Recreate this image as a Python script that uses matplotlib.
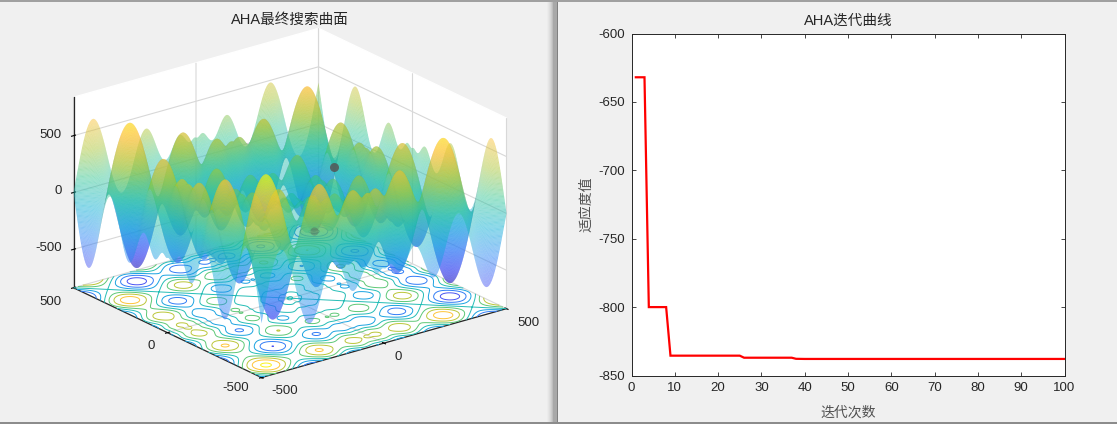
import numpy as np
import matplotlib
matplotlib.use('Agg')
import matplotlib.pyplot as plt
from matplotlib.colors import LinearSegmentedColormap
from matplotlib.patches import Rectangle
from mpl_toolkits.mplot3d import proj3d

W, H = 1119, 424
FONT = ['Liberation Sans', 'Noto Sans CJK SC', 'DejaVu Sans']
TEXT = '#262626'
plt.rcParams['font.family'] = FONT
plt.rcParams['font.size'] = 9.5
plt.rcParams['axes.unicode_minus'] = False
plt.rcParams['grid.color'] = '#d8d8d8'
plt.rcParams['grid.linewidth'] = 0.8
plt.rcParams['text.color'] = TEXT
plt.rcParams['axes.labelcolor'] = TEXT

# ---- data ----
curve_iter = [1, 3, 4, 8, 9, 25, 26, 37, 38, 40, 100]
curve_val = [-632, -632, -800, -800, -835.5, -835.5, -837, -837, -837.8, -837.9, -837.9]
best_floor = (421, 421, -838)
best_ball = (421, 314, -184)
surface_ticks = [-500, 0, 500]
surface_ticklabels = ['-500', '0', '500']
curve_xticks = list(range(0, 101, 10))
curve_yticks = [-600, -650, -700, -750, -800, -850]
contour_levels = [-800, -600, -400, -200, 0, 200, 400, 600, 800]
z_limits = (-838, 838)

# The surface is the Schwefel test function identified from the picture; a dense
# grid cannot be read by eye, so this one grid is computed rather than estimated.
grid = np.arange(-500, 500.1, 2.5)
X, Y = np.meshgrid(grid, grid)
Z = -X * np.sin(np.sqrt(np.abs(X))) - Y * np.sin(np.sqrt(np.abs(Y)))

parula = LinearSegmentedColormap.from_list('parula', [
    (0.2422, 0.1504, 0.6603), (0.2810, 0.3228, 0.9579), (0.1786, 0.5289, 0.9682),
    (0.0689, 0.6948, 0.8394), (0.2161, 0.7843, 0.5923), (0.6720, 0.7793, 0.2227),
    (0.9970, 0.7659, 0.2199), (0.9769, 0.9839, 0.0805)])

fig = plt.figure(figsize=(W / 100, H / 100), dpi=100, facecolor='#f0f0f0')


def chrome(x0, y0, x1, y1, color):
    fig.add_artist(Rectangle((x0 / W, 1 - y1 / H), (x1 - x0) / W, (y1 - y0) / H,
                             transform=fig.transFigure, color=color, lw=0, zorder=-5))


for i, c in enumerate(['#ececec', '#e6e6e6', '#dfdfdf', '#d6d6d6', '#cbcbcb', '#bdbdbd']):
    chrome(547 + i, 0, 548 + i, H, c)
chrome(553, 0, 557, H, '#a8a8a8')
chrome(557, 0, 558, H, '#808080')
chrome(0, 0, W, 1.5, '#a0a0a0')
chrome(0, 422, W, 424, '#8c8c8c')
chrome(1117, 0, 1119, H, '#ffffff')

# ---- 3D panel ----
ax = fig.add_axes([0.03, 0.03, 0.4, 0.4 * W / H], projection='3d',
                  proj_type='ortho', computed_zorder=False)
ax.patch.set_alpha(0)
ax.view_init(elev=21.5, azim=-127.5)
ax.set_box_aspect((1, 1, 0.663))
ax.set_xlim(-500, 500)
ax.set_ylim(-500, 500)
ax.set_zlim(*z_limits)
ax.set_xticks(surface_ticks)
ax.set_yticks(surface_ticks)
ax.set_zticks(surface_ticks)
ax.set_xticklabels([])
ax.set_yticklabels([])
ax.set_zticklabels([])
ax.zaxis.set_ticks_position('upper')
for a in (ax.xaxis, ax.yaxis, ax.zaxis):
    a.set_pane_color((1, 1, 1, 1))
    a.pane.set_edgecolor('#ffffff')
    a.line.set_color(TEXT)
    a.line.set_linewidth(0.9)
    a._axinfo['tick']['inward_factor'] = 0.1
    a._axinfo['tick']['outward_factor'] = 0.1

ax.contour(X, Y, Z, levels=contour_levels, zdir='z', offset=z_limits[0], cmap=parula,
           vmin=z_limits[0], vmax=z_limits[1], linewidths=0.7, zorder=2)
ax.plot_surface(X, Y, Z, rstride=1, cstride=1, cmap=parula, vmin=z_limits[0],
                vmax=z_limits[1], alpha=0.56, linewidth=0, antialiased=True,
                edgecolor='none', shade=False, zorder=3)
ax.scatter(*[[v] for v in best_floor], s=36, c='#555555', alpha=0.35, linewidths=0,
           depthshade=False, zorder=4)
ax.scatter(*[[v] for v in best_ball], s=42, c='#555555', alpha=0.85, linewidths=0,
           depthshade=False, zorder=4)
ax.set_title('AHA最终搜索曲面', fontsize=10.5, color=TEXT, y=1 - 20 / H, va='center', ha='center')
ax.title.set_transform(fig.transFigure)
ax.title.set_position((289.5 / W, 1 - 20 / H))

# tick labels of the 3D box, centred where the reference has them (pixels)
LABEL_CENTRES = {
    'x': [(285, 390.7), (398.5, 357.3), (528.5, 323.3)],
    'y': [(235.7, 388.3), (151.5, 345.7), (50.3, 301.7)],
    'z': [(48.2, 248.3), (57.9, 191), (50.3, 135)],
}
for centres in LABEL_CENTRES.values():
    for text, (tx, ty) in zip(surface_ticklabels, centres):
        ax.text2D(tx / W, 1 - ty / H, text, transform=fig.transFigure, ha='center',
                  va='center', fontsize=9.5, color=TEXT, clip_on=False)

# place the 3D box on the reference's corners
TARGET = {'left': (73, 289), 'front': (262.5, 377), 'right': (506, 308)}
CORNER = {'left': (-500, 500, z_limits[0]), 'front': (-500, -500, z_limits[0]),
          'right': (500, -500, z_limits[0])}


def corner_px(name):
    fig.canvas.draw()
    x, y, _ = proj3d.proj_transform(*CORNER[name], ax.get_proj())
    return ax.transData.transform((x, y))


for _ in range(2):
    span = corner_px('right')[0] - corner_px('left')[0]
    side = ax.get_position().width * W * (TARGET['right'][0] - TARGET['left'][0]) / span
    p = ax.get_position()
    cx, cy = p.x0 + p.width / 2, p.y0 + p.height / 2
    ax.set_position([cx - side / W / 2, cy - side / H / 2, side / W, side / H])
    fx, fy = corner_px('front')
    lx, ly = corner_px('left')
    rx, ry = corner_px('right')
    dx = np.mean([TARGET[k][0] for k in TARGET]) - np.mean([fx, lx, rx])
    dy = np.mean([H - TARGET[k][1] for k in TARGET]) - np.mean([fy, ly, ry])
    p = ax.get_position()
    ax.set_position([p.x0 + dx / W, p.y0 + dy / H, p.width, p.height])

# ---- convergence panel ----
ax2 = fig.add_axes([631.5 / W, 1 - 375.5 / H, 433 / W, 342 / H])
ax2.plot(curve_iter, curve_val, color='#ff0000', lw=1.6, solid_joinstyle='miter')
ax2.set_xlim(0, 100)
ax2.set_ylim(-850, -600)
ax2.set_xticks(curve_xticks)
ax2.set_yticks(curve_yticks)
ax2.tick_params(direction='in', top=True, right=True, length=3.2, width=0.6,
                colors=TEXT, labelsize=9.5)
ax2.tick_params(axis='x', pad=5)
ax2.tick_params(axis='y', pad=5)
for s in ax2.spines.values():
    s.set_linewidth(0.7)
    s.set_color(TEXT)
ax2.set_title('AHA迭代曲线', fontsize=10.5, color=TEXT, pad=6)
ax2.set_xlabel('迭代次数', fontsize=10, color='#505050', labelpad=8)
ax2.set_ylabel('适应度值', fontsize=10, color='#505050', labelpad=3)

fig.savefig('out.png', dpi=100, facecolor=fig.get_facecolor())
